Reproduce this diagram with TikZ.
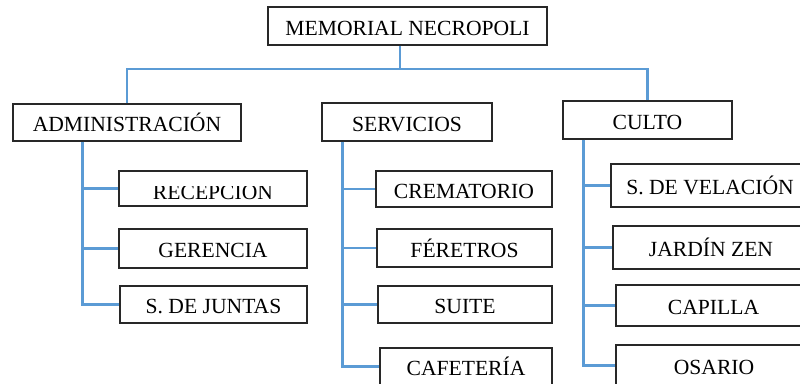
\documentclass[tikz,border=0pt]{standalone}
\usepackage{fontspec}
\setmainfont{Liberation Serif}
\definecolor{linkblue}{RGB}{91,155,213}
\definecolor{boxline}{RGB}{40,40,40}
\begin{document}
\begin{tikzpicture}[x=1pt,y=-1pt,
  box/.style={draw=boxline,line width=1.1pt,inner sep=0pt,text height=18pt,text depth=0pt,
    font=\fontsize{21.6}{25}\selectfont},
  plaintext/.style={inner sep=0pt,text height=18pt,text depth=0pt,font=\fontsize{21.6}{25}\selectfont},
  link/.style={draw=linkblue,line width=2.6pt}]
\useasboundingbox (0,0) rectangle (800,383);
\clip (0,0) rectangle (800,383);
% top level
\node[box,minimum width=279pt,minimum height=38pt] (root) at (407.5,26) {MEMORIAL NECROPOLI};
\node[box,minimum width=228pt,minimum height=37pt] (admin) at (127,122.5) {ADMINISTRACIÓN};
\node[box,minimum width=170pt,minimum height=38pt] (serv) at (407,122) {SERVICIOS};
\node[box,minimum width=169pt,minimum height=38pt] (culto) at (647.5,120) {CULTO};
% administracion
\node[box,minimum width=188pt,minimum height=35pt] (recep) at (213,188.5) {};
\begin{scope}
  \clip (119,186) rectangle (307,206);
  \node[plaintext] (receptext) at (213,190) {RECEPCIÓN};
\end{scope}
\node[box,minimum width=188pt,minimum height=39pt] (geren) at (213,248.5) {GERENCIA};
\node[box,minimum width=187pt,minimum height=37pt] (juntas) at (213.5,304.5) {S. DE JUNTAS};
% servicios
\node[box,minimum width=176pt,minimum height=36pt] (crema) at (464,189) {CREMATORIO};
\node[box,minimum width=175pt,minimum height=38pt] (feret) at (464.5,248) {FÉRETROS};
\node[box,minimum width=174pt,minimum height=37pt] (suite) at (465,304.5) {SUITE};
\node[box,minimum width=172pt,minimum height=37pt] (cafe) at (466,366.5) {CAFETERÍA};
% culto
\node[box,minimum width=198pt,minimum height=43pt] (velac) at (710,185.5) {S. DE VELACIÓN};
\node[box,minimum width=196pt,minimum height=43pt] (jardin) at (711,247.5) {JARDÍN ZEN};
\node[box,minimum width=195pt,minimum height=41pt] (capilla) at (713.5,305.5) {CAPILLA};
\node[box,minimum width=196pt,minimum height=41pt] (osario) at (714,365.5) {OSARIO};
% connectors
\coordinate (busy) at (0,69);
\coordinate (rootdrop) at ([xshift=-7.5pt]root.south);
\draw[link] (rootdrop) -- (rootdrop |- busy);
\draw[link] (admin.north) |- (rootdrop |- busy) -| (culto.north);
\coordinate (aspine) at ([xshift=70pt]admin.south west);
\coordinate (sspine) at ([xshift=21pt]serv.south west);
\coordinate (cspine) at ([xshift=21pt]culto.south west);
\draw[link] (aspine) |- (juntas.west);
\draw[link] (aspine |- recep.west) -- (recep.west);
\draw[link] (aspine |- geren.west) -- (geren.west);
\draw[link] (sspine) |- (cafe.west);
\draw[link] (sspine |- crema.west) -- (crema.west);
\draw[link] (sspine |- feret.west) -- (feret.west);
\draw[link] (sspine |- suite.west) -- (suite.west);
\draw[link] (cspine) |- (osario.west);
\draw[link] (cspine |- velac.west) -- (velac.west);
\draw[link] (cspine |- jardin.west) -- (jardin.west);
\draw[link] (cspine |- capilla.west) -- (capilla.west);
\end{tikzpicture}
\end{document}
